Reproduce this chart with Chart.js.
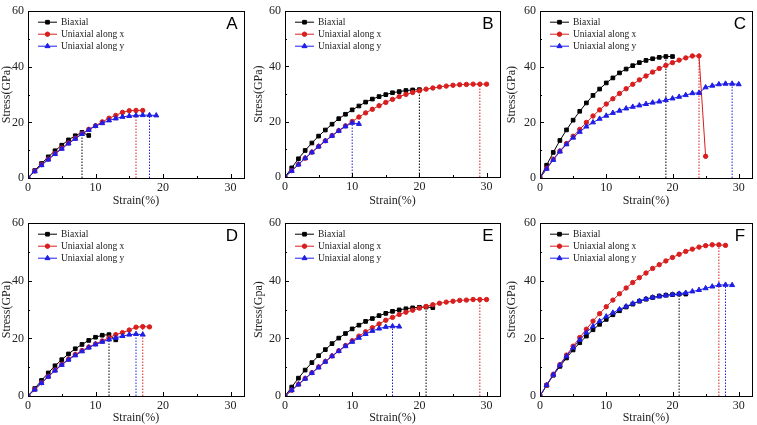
<!DOCTYPE html>
<html>
<head>
<meta charset="utf-8">
<script src="https://cdn.jsdelivr.net/npm/chart.js@4.4.0/dist/chart.umd.min.js"></script>
<style>
  body { margin: 0; background: #fff; }
  #wrap { position: relative; width: 757px; height: 425px; background: #fff; }
  #wrap canvas { position: absolute; }
</style>
</head>
<body>
<div id="wrap">
  <canvas id="cA"></canvas>
  <canvas id="cB"></canvas>
  <canvas id="cC"></canvas>
  <canvas id="cD"></canvas>
  <canvas id="cE"></canvas>
  <canvas id="cF"></canvas>
</div>
<script>
// strain (%) steps, shared by every panel
const strain = [0,1,2,3,4,5,6,7,8,9,10,11,12,13,14,15,16,17,18,19,20,21,22,23,24,25,26,27,28,29,30];
const seriesNames = ["Biaxial", "Uniaxial along x", "Uniaxial along y"];
const xTicks = [0,5,10,15,20,25,30];
const xLabels = [0,10,20,30];
const yTicks = [0,10,20,30,40,50,60];

// A
const biaxialA = [0,2.7,5.2,7.6,9.8,11.8,13.7,15.2,16.4,15.3];
const uniXA = [0,2.5,4.8,6.8,8.8,10.8,12.6,14.3,16.0,17.5,18.8,20.2,21.5,22.5,23.6,24.2,24.3,24.3];
const uniYA = [0,2.4,4.6,6.6,8.6,10.5,12.4,14.1,15.8,17.3,18.7,19.7,20.7,21.4,22.0,22.3,22.5,22.6,22.6,22.5];
const dropsA = [8,16,18];

// B
const biaxialB = [0,3.3,6.6,9.6,12.3,14.8,17.0,19.1,21.1,22.7,24.3,25.7,27.1,28.2,29.1,29.8,30.5,30.9,31.3,31.5,31.6];
const uniXB = [0,2.3,4.6,6.8,9.0,11.1,13.1,15.0,16.8,18.5,20.1,21.7,23.2,24.5,25.8,27.0,28.1,29.1,29.9,30.6,31.2,31.8,32.2,32.6,32.9,33.2,33.4,33.5,33.6,33.6,33.6];
const uniYB = [0,2.2,4.5,6.8,8.9,11.0,13.0,14.9,16.7,18.3,19.6,19.2];
const dropsB = [20,29,10];

// C
const biaxialC = [0,4.6,9.2,13.5,17.3,20.8,24.0,27.0,29.7,32.0,34.2,36.0,37.8,39.2,40.4,41.5,42.3,42.9,43.4,43.7,43.7];
const uniXC = [0,3.5,6.8,9.7,12.4,15.0,17.5,20.0,22.3,24.5,26.6,28.5,30.4,32.1,33.7,35.3,36.7,38.1,39.4,40.5,41.5,42.4,43.2,43.9,43.9,7.8];
const uniYC = [0,3.3,6.5,9.5,12.1,14.5,16.6,18.5,20.0,21.3,22.4,23.4,24.2,25.0,25.6,26.1,26.6,27.1,27.5,28.0,28.6,29.2,29.8,30.5,30.6,32.6,33.2,33.7,33.9,33.9,33.7];
const dropsC = [19,24,29];

// D
const biaxialD = [0,2.6,5.4,8.0,10.5,12.6,14.6,16.4,17.9,19.3,20.4,21.1,21.3,19.5];
const uniXD = [0,2.3,4.6,6.8,9.0,11.0,12.8,14.4,15.8,17.0,18.1,19.1,20.2,21.3,22.0,22.9,23.9,24.1,24.0];
const uniYD = [0,2.2,4.5,6.7,8.8,10.8,12.6,14.1,15.5,16.8,17.9,18.8,19.6,20.2,20.8,21.3,21.5,21.3];
const dropsD = [12,17,16];

// E
const biaxialE = [0,3.1,6.2,9.0,11.6,14.0,16.1,18.2,20.1,21.7,23.3,24.6,25.9,26.9,27.9,28.7,29.4,29.9,30.3,30.6,30.8,30.9,30.7];
const uniXE = [0,2.0,4.1,6.1,8.1,10.1,12.0,13.9,15.7,17.5,19.2,20.8,22.3,23.7,25.0,26.3,27.3,28.3,29.1,29.8,30.5,31.1,31.7,32.2,32.6,32.9,33.2,33.3,33.5,33.5,33.5];
const uniYE = [0,2.0,4.0,6.0,8.0,9.9,11.9,13.8,15.6,17.3,18.8,20.2,21.5,22.6,23.4,24.0,24.2,24.1];
const dropsE = [21,29,16];

// F
const biaxialF = [0,3.7,7.2,10.3,13.2,16.0,18.5,20.8,23.0,24.9,26.6,28.2,29.6,30.9,31.9,32.9,33.6,34.2,34.7,35.0,35.2,35.4,35.4];
const uniXF = [0,3.8,7.5,10.9,14.2,17.3,20.3,23.2,26.0,28.6,31.0,33.3,35.5,37.5,39.4,41.1,42.7,44.3,45.6,46.9,48.1,49.2,50.2,51.0,51.7,52.2,52.5,52.5,52.3];
const uniYF = [0,3.8,7.4,10.7,13.8,16.8,19.5,22.0,24.2,26.0,27.6,28.9,30.1,31.1,32.1,33.0,33.7,34.2,34.6,34.9,35.2,35.5,35.8,36.3,36.8,37.4,38.0,38.5,38.6,38.5];
const dropsF = [21,27,28];

const colors = ["#000000", "#d81e1e", "#1e1ee6"];
const markers = ["rect", "circle", "triangle"];
const markerSize = [2.6, 2.2, 2.9];

// canvas box + plot area (page coords)
const layouts = {
  A: {left: 0,   top: 0,   w: 252, h: 212, L: 28,  T: 5,   R: 244, B: 178, tb: 4},
  B: {left: 252, top: 0,   w: 253, h: 212, L: 285, T: 5,   R: 501, B: 177, tb: 4},
  C: {left: 505, top: 0,   w: 252, h: 212, L: 540, T: 5,   R: 755, B: 178, tb: 4},
  D: {left: 0,   top: 212, w: 252, h: 213, L: 28,  T: 223, R: 244, B: 396, tb: 0},
  E: {left: 252, top: 212, w: 253, h: 213, L: 285, T: 223, R: 501, B: 396, tb: 0},
  F: {left: 505, top: 212, w: 252, h: 213, L: 540, T: 223, R: 755, B: 396, tb: 0}
};

const panels = [
  {id: "A", series: [biaxialA, uniXA, uniYA], drops: dropsA, ytitle: "Stress(GPa)"},
  {id: "B", series: [biaxialB, uniXB, uniYB], drops: dropsB, ytitle: "Stress(GPa)"},
  {id: "C", series: [biaxialC, uniXC, uniYC], drops: dropsC, ytitle: "Stress(GPa)"},
  {id: "D", series: [biaxialD, uniXD, uniYD], drops: dropsD, ytitle: "Stress(GPa)"},
  {id: "E", series: [biaxialE, uniXE, uniYE], drops: dropsE, ytitle: "Stress(Gpa)"},
  {id: "F", series: [biaxialF, uniXF, uniYF], drops: dropsF, ytitle: "Stress(GPa)"}
];

const serif = "'Liberation Serif', 'Times New Roman', serif";

// frame, inward ticks, legend and panel letter
const panelDeco = {
  id: "panelDeco",
  afterDraw(chart, args, opts) {
    const ctx = chart.ctx;
    const a = chart.chartArea;
    const xs = chart.scales.x, ys = chart.scales.y;
    ctx.save();
    ctx.strokeStyle = "#000";
    ctx.lineWidth = 1;
    ctx.strokeRect(Math.round(a.left) + 0.5, Math.round(a.top) + 0.5,
                   Math.round(a.right - a.left), Math.round(a.bottom - a.top));
    ctx.beginPath();
    xTicks.forEach(v => {
      const px = Math.round(xs.getPixelForValue(v)) + 0.5;
      const len = v % 10 === 0 ? 4 : 2;
      ctx.moveTo(px, a.bottom);
      ctx.lineTo(px, a.bottom - len);
    });
    yTicks.forEach(v => {
      const py = Math.round(ys.getPixelForValue(v)) + 0.5;
      const len = v % 20 === 0 ? 4 : 2;
      ctx.moveTo(a.left, py);
      ctx.lineTo(a.left + len, py);
    });
    ctx.stroke();

    // legend
    ctx.font = "9.5px " + serif;
    ctx.textBaseline = "middle";
    seriesNames.forEach((name, i) => {
      const y = a.top + 11 + i * 12;
      const x0 = a.left + 10, x1 = a.left + 29;
      ctx.strokeStyle = colors[i];
      ctx.fillStyle = colors[i];
      ctx.lineWidth = 1;
      ctx.beginPath();
      ctx.moveTo(x0, y);
      ctx.lineTo(x1, y);
      ctx.stroke();
      Chart.helpers.drawPoint(ctx, {pointStyle: markers[i], radius: markerSize[i], borderWidth: 1}, (x0 + x1) / 2, y);
      ctx.fillStyle = "#222";
      ctx.fillText(name, a.left + 33, y + 0.5);
    });

    // letter
    ctx.fillStyle = "#000";
    ctx.font = "17px 'Liberation Sans', Arial, sans-serif";
    ctx.textAlign = "center";
    ctx.fillText(opts.letter, a.right - 12, a.top + 13);
    ctx.restore();
  }
};

panels.forEach(p => {
  const g = layouts[p.id];
  const cv = document.getElementById("c" + p.id);
  cv.width = g.w; cv.height = g.h;
  cv.style.left = g.left + "px"; cv.style.top = g.top + "px";
  cv.style.width = g.w + "px"; cv.style.height = g.h + "px";

  const datasets = [];
  p.series.forEach((vals, i) => {
    datasets.push({
      label: seriesNames[i],
      data: vals.map((v, k) => ({x: strain[k], y: v})),
      borderColor: colors[i],
      backgroundColor: colors[i],
      borderWidth: 1,
      pointStyle: markers[i],
      pointRadius: markerSize[i],
      pointBorderWidth: 1,
      showLine: true,
      tension: 0,
      order: 3 - i
    });
  });
  p.drops.forEach((s, i) => {
    datasets.push({
      label: "drop " + seriesNames[i],
      data: [{x: strain[s], y: 0}, {x: strain[s], y: p.series[i][s]}],
      borderColor: colors[i],
      borderWidth: 1,
      borderDash: [1.5, 1.5],
      pointRadius: 0,
      showLine: true,
      order: 5
    });
  });

  new Chart(cv, {
    type: "scatter",
    data: {datasets},
    options: {
      responsive: false,
      animation: false,
      devicePixelRatio: 1,
      layout: {padding: {left: 0, top: g.T - g.top, right: g.left + g.w - g.R, bottom: 0}},
      plugins: {
        legend: {display: false},
        tooltip: {enabled: false},
        panelDeco: {letter: p.id}
      },
      scales: {
        x: {
          type: "linear", min: 0, max: 32,
          afterFit: sc => { sc.height = g.top + g.h - g.B; },
          afterBuildTicks: sc => { sc.ticks = xLabels.map(v => ({value: v})); },
          grid: {display: false, drawTicks: false},
          border: {display: false},
          ticks: {
            padding: 3, color: "#222", maxRotation: 0,
            font: {family: serif, size: 12}
          },
          title: {display: true, text: "Strain(%)", color: "#222",
                  font: {family: serif, size: 12}, padding: {top: 0, bottom: g.tb}}
        },
        y: {
          type: "linear", min: 0, max: 60,
          afterFit: sc => { sc.width = g.L - g.left; },
          grid: {display: false, drawTicks: false},
          border: {display: false},
          ticks: {
            stepSize: 20, padding: 4, color: "#222",
            font: {family: serif, size: 12}
          },
          title: {display: true, text: p.ytitle, color: "#222",
                  font: {family: serif, size: 12}, padding: {top: 0, bottom: 0}}
        }
      }
    },
    plugins: [panelDeco]
  });
});
</script>
</body>
</html>
